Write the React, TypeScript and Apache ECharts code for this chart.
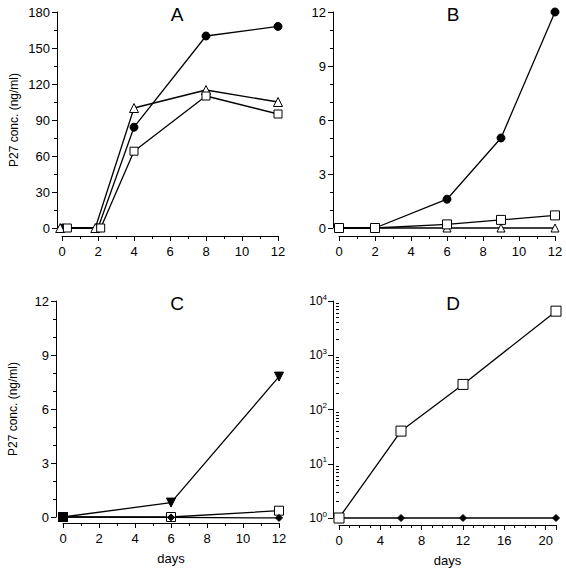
import React, { useEffect, useRef } from "react";
import * as echarts from "echarts";

// ---- Data ----
// Panel A
const aCircle: [number, number][] = [[0.05, 0], [2, 0], [4, 84], [8, 160], [12, 168]];
const aTriangle: [number, number][] = [[-0.1, 0], [1.85, 0], [4, 100], [8, 115], [12, 105]];
const aSquare: [number, number][] = [[0.3, 0], [2.15, 0], [4, 64], [8, 110], [12, 95]];
// Panel B
const bCircle: [number, number][] = [[0, 0], [2, 0], [6, 1.6], [9, 5], [12, 12]];
const bTriangle: [number, number][] = [[0, 0], [2, 0], [6, 0], [9, 0], [12, 0]];
const bSquare: [number, number][] = [[0, 0], [2, 0], [6, 0.2], [9, 0.45], [12, 0.7]];
// Panel C
const cDownTri: [number, number][] = [[0, 0], [6, 0.8], [12, 7.8]];
const cSquare: [number, number][] = [[0, 0], [6, 0], [12, 0.35]];
const cDiamond: [number, number][] = [[0, 0], [6, -0.02], [12, -0.05]];
// Panel D (log scale)
const dSquare: [number, number][] = [[0, 1], [6, 40], [12, 290], [21, 6500]];
const dDiamond: [number, number][] = [[0, 1], [6, 1], [12, 1], [21, 1]];

const panelTitles = ["A", "B", "C", "D"];
const yName = "P27 conc. (ng/ml)";
const xName = "days";
const yRanges: [number, number][] = [[0, 180], [0, 12], [0, 12], [1, 10000]];
const logMajor = [1, 10, 100, 1000, 10000];
const logMinor: number[] = [];
[1, 10, 100, 1000].forEach((d) => {
  for (let k = 2; k <= 9; k++) logMinor.push(d * k);
});

const FONT = "Liberation Sans, Arial, Helvetica, sans-serif";

export default function App() {
  const ref = useRef<HTMLDivElement>(null);
  useEffect(() => {
    document.body.style.margin = "0";
    const chart = echarts.init(ref.current!, null, { renderer: "svg" });

    const black = "#000";
    const axisLineX = { show: true, onZero: false, lineStyle: { color: black, width: 1 } };
    const axisLineY = { show: true, onZero: false, lineStyle: { color: black, width: 1 } };
    const tick = { show: true, inside: false, length: 5, lineStyle: { color: black, width: 1 } };
    const minor = (n: number) => ({ show: true, splitNumber: n, length: 3, lineStyle: { color: black, width: 1 } });
    const label = { color: black, fontSize: 13, fontFamily: FONT };
    const yOffsets = [5, 6, 7, 6];

    const grids = [
      { left: 62, top: 12, width: 216, height: 216 },
      { left: 339, top: 12, width: 216, height: 216 },
      { left: 63, top: 301, width: 216, height: 216 },
      { left: 339, top: 301, width: 217, height: 217 },
    ];

    const xBase = (gi: number, max: number, interval: number, minorN: number, offset: number, name?: string) => ({
      type: "value",
      gridIndex: gi,
      position: "bottom",
      min: 0,
      max,
      interval,
      offset,
      axisLine: axisLineX,
      axisTick: tick,
      minorTick: minor(minorN),
      splitLine: { show: false },
      axisLabel: { ...label, margin: 9, showMaxLabel: max % interval === 0 },
      name,
      nameLocation: "middle",
      nameGap: 29,
      nameTextStyle: { color: black, fontSize: 13, fontFamily: FONT },
    });

    const yBase = (gi: number, interval: number, minorN: number, name?: string) => ({
      type: "value",
      gridIndex: gi,
      position: "left",
      min: yRanges[gi][0],
      max: yRanges[gi][1],
      interval,
      offset: yOffsets[gi],
      axisLine: axisLineY,
      axisTick: tick,
      minorTick: minor(minorN),
      splitLine: { show: false },
      axisLabel: { ...label, margin: 7 },
      name,
      nameLocation: "middle",
      nameGap: 37,
      nameTextStyle: { color: black, fontSize: 12, fontFamily: FONT },
    });

    const lineStyle = { color: black, width: 1.3 };
    const ser = (
      ai: number,
      data: any[],
      symbol: string,
      size: number,
      filled: boolean,
      rotate = 0
    ) => ({
      type: "line",
      xAxisIndex: ai,
      yAxisIndex: ai,
      data,
      symbol,
      symbolSize: size,
      symbolRotate: rotate,
      showAllSymbol: true,
      clip: false,
      lineStyle,
      itemStyle: { color: filled ? black : "#fff", borderColor: black, borderWidth: 1 },
      z: filled ? 3 : 4,
    });

    const cDiamondItems = cDiamond.map((p, i) =>
      i === 0 ? { value: p, symbol: "rect", symbolSize: 9 } : p
    );

    const option: any = {
      animation: false,
      backgroundColor: "#fff",
      textStyle: { fontFamily: FONT },
      title: panelTitles.map((t, i) => ({
        text: t,
        left: [172, 448, 172, 448][i],
        top: [0, 0, 289, 289][i],
        textAlign: "center",
        textStyle: { fontSize: 19, fontWeight: "normal", color: black, fontFamily: FONT },
      })),
      grid: grids,
      xAxis: [
        xBase(0, 12, 2, 2, 8),
        xBase(1, 12, 2, 2, 8),
        xBase(2, 12, 2, 2, 6, xName),
        xBase(3, 21, 4, 4, 7, xName),
      ],
      yAxis: [
        yBase(0, 30, 2, yName),
        yBase(1, 3, 3),
        yBase(2, 3, 3, yName),
        {
          type: "log",
          logBase: 10,
          gridIndex: 3,
          position: "left",
          min: yRanges[3][0],
          max: yRanges[3][1],
          offset: yOffsets[3],
          axisLine: axisLineY,
          axisTick: { ...tick, customValues: logMajor },
          splitLine: { show: false },
          axisLabel: {
            customValues: logMajor,
            margin: 6,
            formatter: (v: number) => `{a|10}{b|${Math.round(Math.log10(v))}}`,
            rich: {
              a: { fontSize: 12, fontFamily: FONT, color: black },
              b: { fontSize: 8, fontFamily: FONT, color: black, padding: [0, 0, 8, 0] },
            },
          },
        },
        {
          type: "log",
          logBase: 10,
          gridIndex: 3,
          position: "left",
          min: yRanges[3][0],
          max: yRanges[3][1],
          offset: yOffsets[3],
          axisLine: { show: false },
          axisTick: { show: true, inside: false, length: 3, customValues: logMinor, lineStyle: { color: black, width: 1 } },
          splitLine: { show: false },
          axisLabel: { show: false },
        },
      ],
      series: [
        ser(0, aCircle, "circle", 8, true),
        ser(0, aTriangle, "triangle", 9, false),
        ser(0, aSquare, "rect", 8, false),
        ser(1, bCircle, "circle", 8, true),
        ser(1, bTriangle, "triangle", 8, false),
        ser(1, bSquare, "rect", 9, false),
        { ...ser(2, cDiamondItems, "diamond", 7, true), z: 5 },
        ser(2, cSquare, "rect", 9, false),
        ser(2, cDownTri, "triangle", 9, true, 180),
        { ...ser(3, dDiamond, "diamond", 7, true), lineStyle: { color: black, width: 1.6 } },
        ser(3, dSquare, "rect", 10, false),
      ],
    };

    chart.setOption(option);

    // Y-axis lines, placed through the library's own scales (some grids drop them)
    const lines = yRanges.map((r, i) => {
      const p0 = chart.convertToPixel({ xAxisIndex: i, yAxisIndex: i } as any, [0, r[0]]) as number[];
      const p1 = chart.convertToPixel({ xAxisIndex: i, yAxisIndex: i } as any, [0, r[1]]) as number[];
      const x = Math.round(p0[0] - yOffsets[i]) + 0.5;
      return {
        type: "line",
        silent: true,
        z: 10,
        shape: { x1: x, y1: Math.round(p0[1]), x2: x, y2: Math.round(p1[1]) },
        style: { stroke: black, lineWidth: 1 },
      };
    });
    chart.setOption({ graphic: lines });

    return () => chart.dispose();
  }, []);
  return <div ref={ref} style={{ position: "fixed", left: 0, top: 0, width: 566, height: 572 }} />;
}
